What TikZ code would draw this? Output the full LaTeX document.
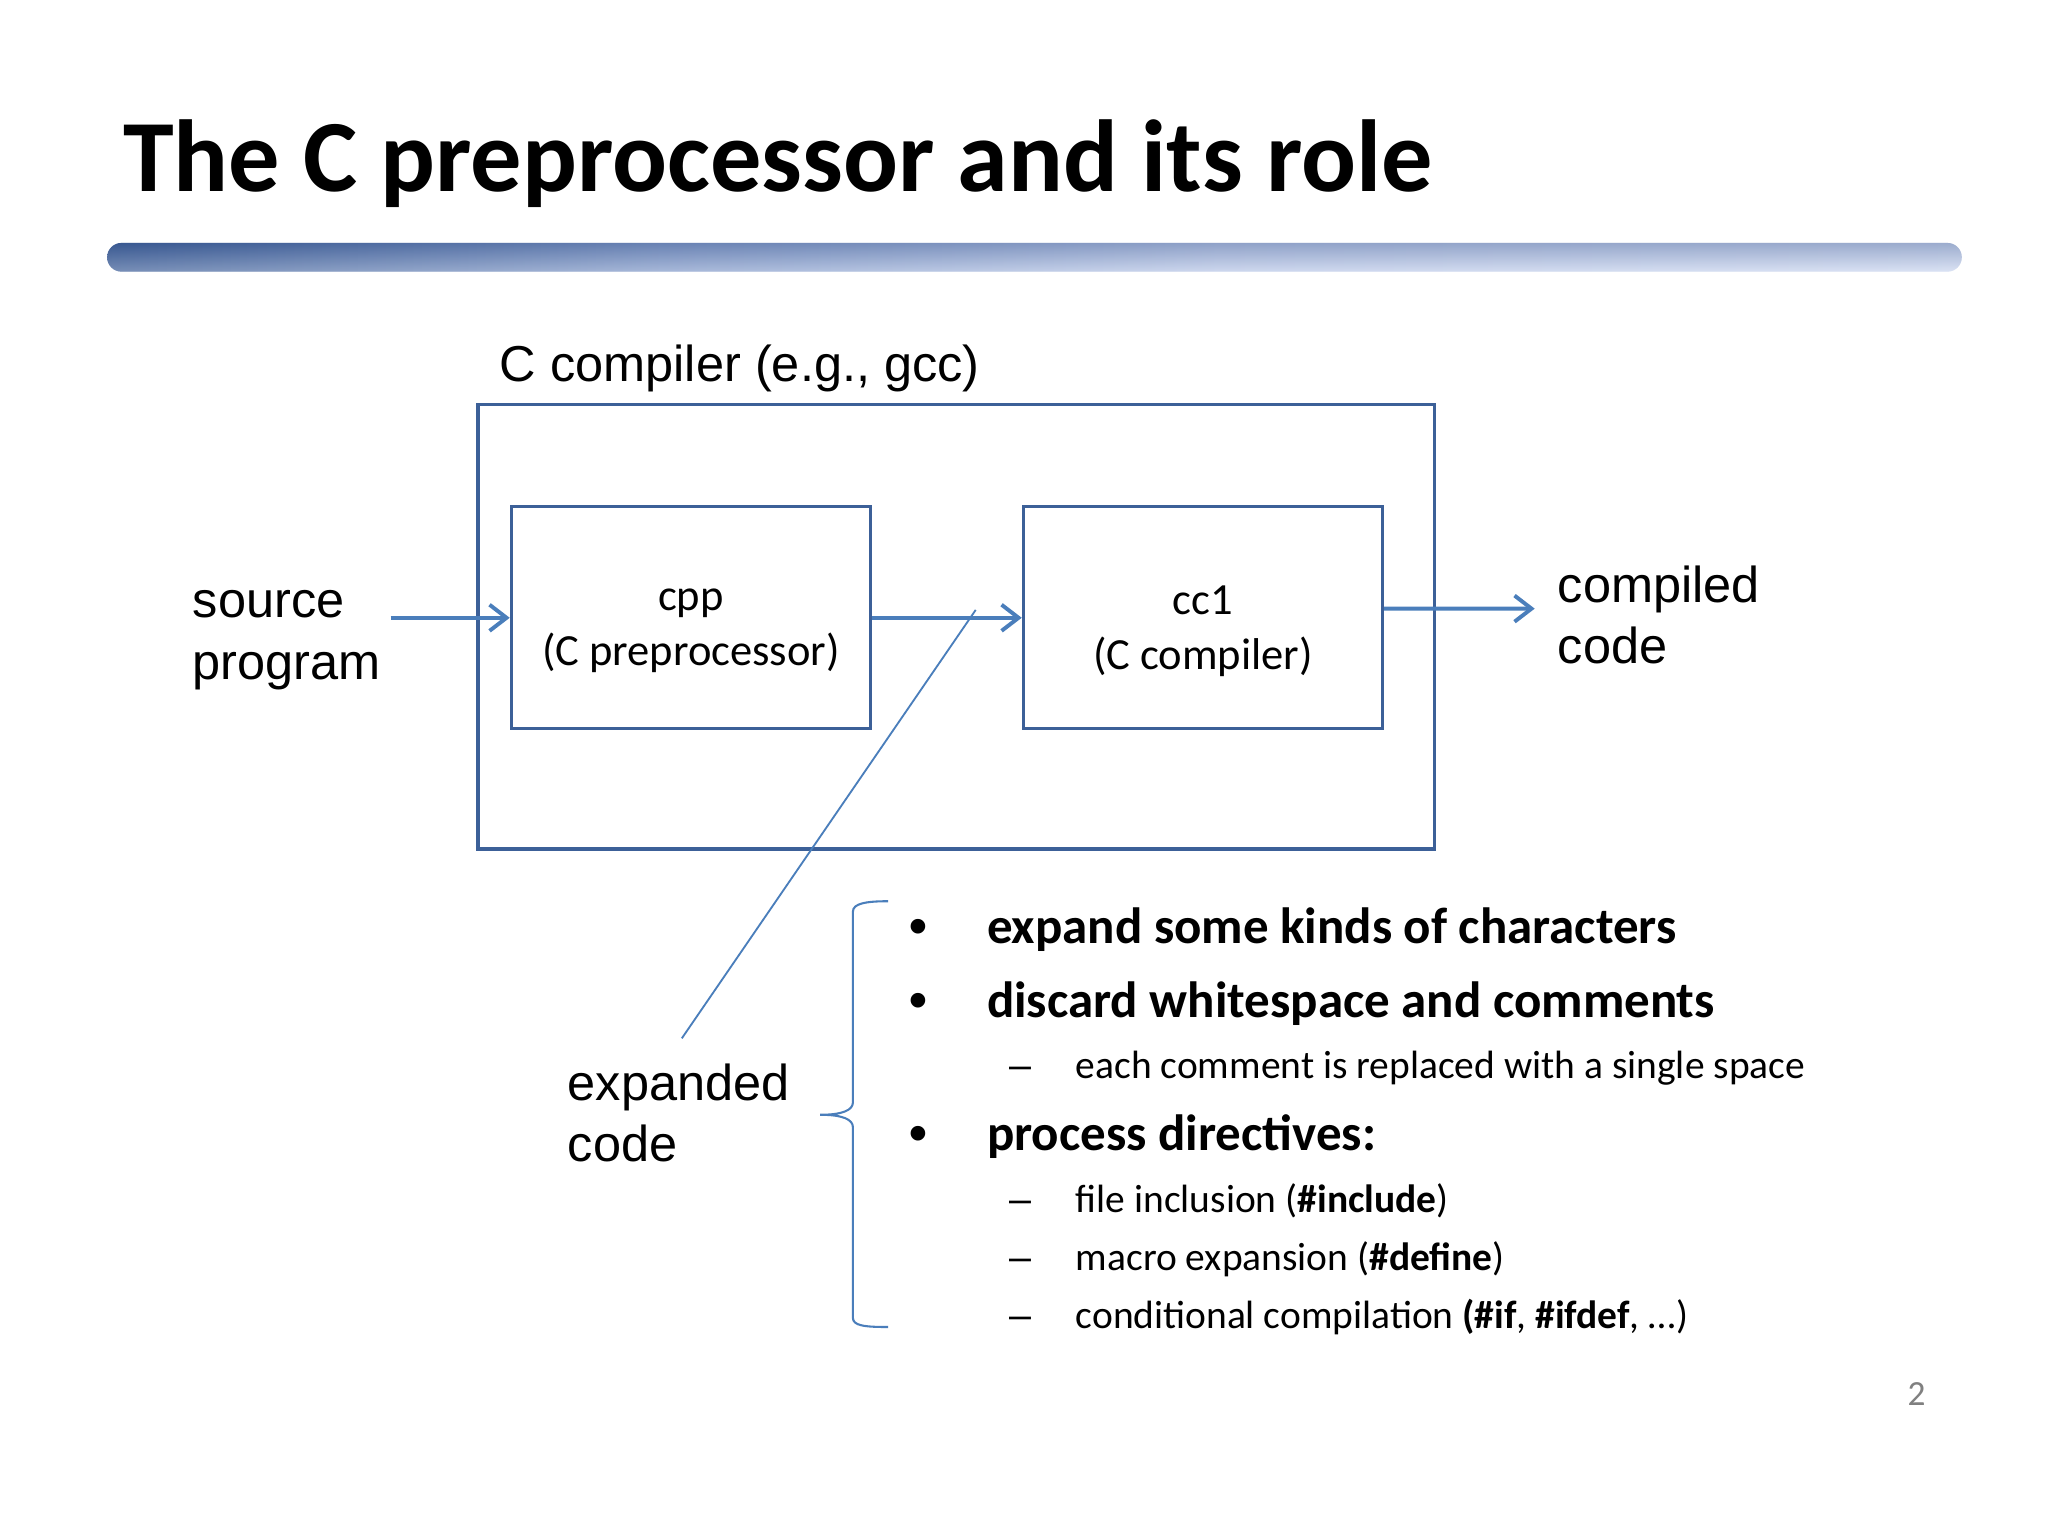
\documentclass[tikz,border=0pt]{standalone}
\usepackage{fontspec}
\setmainfont{Carlito}
\newfontfamily\arialfont{Liberation Sans}
\usetikzlibrary{positioning, arrows.meta}
\definecolor{boxblue}{HTML}{3C6098}
\definecolor{arrowblue}{HTML}{4A7EBB}
\definecolor{bardark}{HTML}{3D5E98}
\definecolor{barmid}{HTML}{839BCA}
\definecolor{barlight}{HTML}{BAC8E8}
\definecolor{barend}{HTML}{CCD7F0}
\definecolor{bartop}{HTML}{2E4A80}
\pgfdeclarehorizontalshading{titlebar}{100bp}{color(0bp)=(bardark); color(25bp)=(bardark); color(40bp)=(barmid); color(55bp)=(barlight); color(75bp)=(barend); color(100bp)=(barend)}
\tikzset{
    >={Straight Barb[length=1.3mm, width=2mm]}, % open arrow heads
    stage/.style={draw=boxblue, line width=0.7pt, minimum width=2.75cm, minimum height=1.7cm}, % cpp and cc1 boxes
    stagetext/.style={align=center, inner sep=0pt, font=\fontsize{9.7}{11.95}\selectfont}, % text inside the boxes
    sidetext/.style={align=left, inner sep=0pt, font=\arialfont\fontsize{11}{13.4}\selectfont}, % labels round the compiler
    flow/.style={->, draw=arrowblue, line width=0.85pt}, % arrows between the stages
    pointer/.style={draw=arrowblue, line width=0.4pt}, % thin lines
    bullet/.style={anchor=base west, inner sep=0pt, font=\fontsize{11.1}{13}\selectfont\bfseries},
    subbullet/.style={anchor=base west, inner sep=0pt, font=\fontsize{8.6}{10}\selectfont},
}

\begin{document}
\begin{tikzpicture}
    \fill[white] (0,0) rectangle (15.68,-11.76);
    \useasboundingbox (0,0) rectangle (15.68,-11.76);

    % title and bar
    \node[anchor=base west, inner sep=0pt, font=\fontsize{22.3}{27}\selectfont\bfseries] (title) at (0.935,-1.47) {The C preprocessor and its role};
    \shade[rounded corners=0.11cm, shading=titlebar] (0.82,-1.86) rectangle (15.02,-2.08);
    \shade[rounded corners=0.11cm, top color=bartop, bottom color=white, fill opacity=0.3] (0.82,-1.86) rectangle (15.02,-2.08);

    % the compiler
    \node[draw=boxblue, line width=0.7pt, minimum width=7.32cm, minimum height=3.4cm] (gcc) at (7.32,-4.80) {};
    \node[anchor=base west, inner sep=0pt, font=\arialfont\fontsize{11}{13.4}\selectfont] (gcclabel) at (3.82,-2.92) {C compiler (e.g., gcc)};
    \node[stage] (cpp) at (5.29,-4.73) {};
    \node[stage] (cc1) at (9.21,-4.73) {};
    \node[stagetext] (cpptext) at ([yshift=-0.10cm]cpp.center) {cpp\\(C preprocessor)};
    \node[stagetext] (cc1text) at ([yshift=-0.10cm]cc1.center) {cc1\\(C compiler)};

    \node[sidetext, anchor=west] (source) at (1.47,-4.90) {source\\program};
    \node[sidetext, anchor=west] (compiled) at (11.92,-4.71) {compiled\\code};
    \node[sidetext, anchor=west] (expanded) at (4.34,-8.52) {expanded\\code};

    \coordinate (src) at (2.99,-4.73);
    \coordinate (out) at (11.75,-4.66);
    \draw[flow] (src) -- (cpp);
    \draw[flow] (cpp) -- (cc1);
    \draw[flow] ([yshift=0.07cm]cc1.east) -- (out);

    \coordinate (tap) at (7.47,-4.67);
    \coordinate (tail) at (5.22,-7.95);
    \draw[pointer] (tap) -- (tail);

    % brace
    \draw[pointer, line width=0.45pt] (6.80,-6.90) .. controls (6.62,-6.90) and (6.53,-6.92) .. (6.53,-6.98)
        -- (6.53,-8.44) .. controls (6.53,-8.50) and (6.45,-8.535) .. (6.28,-8.535)
        .. controls (6.45,-8.535) and (6.53,-8.57) .. (6.53,-8.63)
        -- (6.53,-10.09) .. controls (6.53,-10.15) and (6.62,-10.16) .. (6.80,-10.16);

    % what cpp does
    \foreach \y/\name/\txt in {7.22/expand/{expand some kinds of characters},
                               7.79/discard/{discard whitespace and comments},
                               8.81/process/{process directives:}}
    {
        \node[bullet, anchor=base] (\name dot) at (7.03,-\y) {\arialfont •};
        \node[bullet] (\name) at (7.55,-\y) {\txt};
    }
    \foreach \y/\name/\txt in {8.26/space/{each comment is replaced with a single space},
                               9.28/include/{file inclusion (\textbf{\#include})},
                               9.73/define/{macro expansion (\textbf{\#define})},
                               10.17/ifdef/{conditional compilation \textbf{(\#if}, \textbf{\#ifdef}, …)}}
    {
        \node[subbullet, anchor=base] (\name dash) at (7.81,-\y) {\arialfont –};
        \node[subbullet] (\name) at (8.23,-\y) {\txt};
    }

    \node[anchor=base, inner sep=0pt, text=black!50, font=\fontsize{7.7}{9}\selectfont] (page) at (14.674,-10.76) {2};
\end{tikzpicture}
\end{document}
